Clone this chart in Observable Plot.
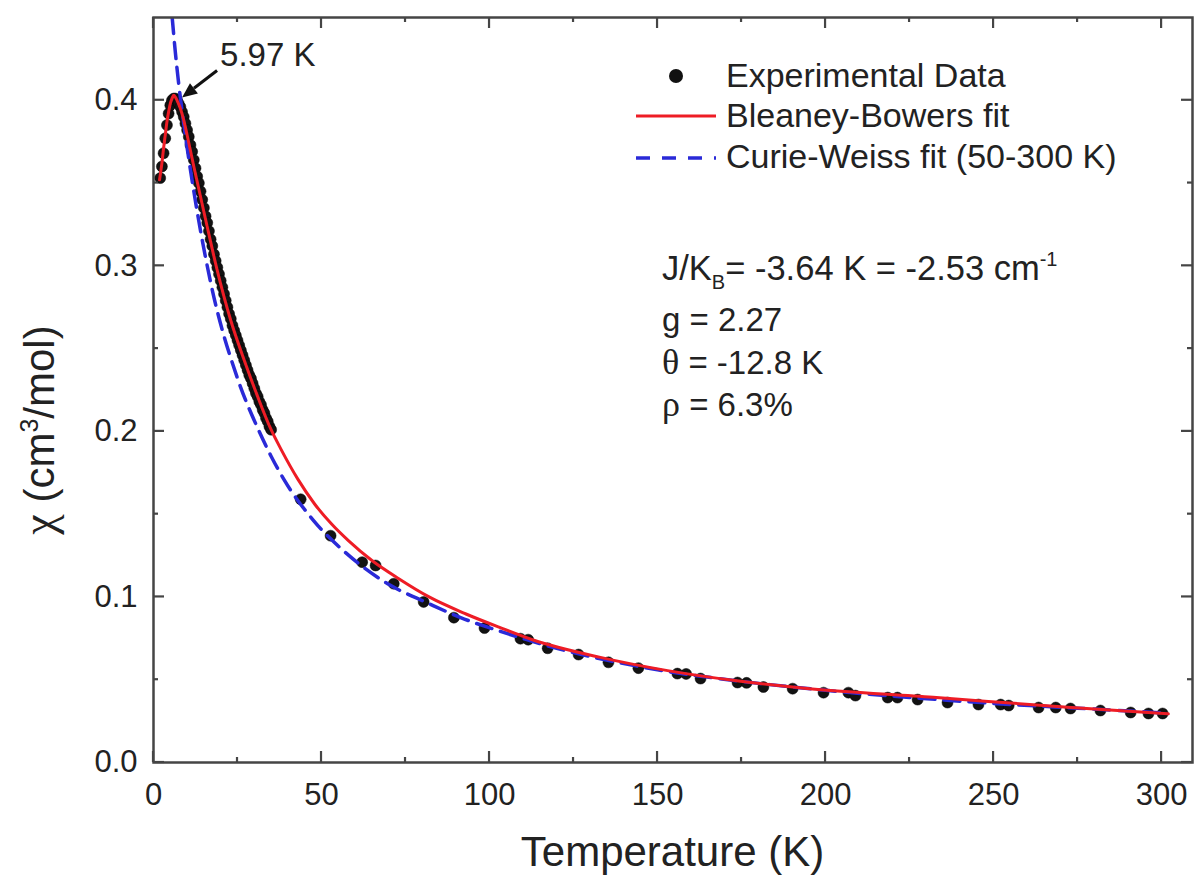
<!DOCTYPE html>
<html>
<head>
<meta charset="utf-8">
<script src="https://cdn.jsdelivr.net/npm/d3@7"></script>
<script src="https://cdn.jsdelivr.net/npm/@observablehq/plot@0.6"></script>
<style>
  html, body { margin: 0; padding: 0; background: #fff; }
  svg { display: block; }
</style>
</head>
<body>
<div id="chart"></div>
<script>
// ---------- data ----------
const expT = [2, 2.5, 3, 3.5, 4, 4.5, 5, 5.5, 6, 6.5, 7, 7.5, 8, 8.5, 9, 9.5, 10, 10.5, 11, 11.5, 12, 12.5, 13, 13.5, 14, 14.5, 15, 15.5,
  16, 16.5, 17, 17.5, 18, 18.5, 19, 19.5, 20, 20.5, 21, 21.5, 22, 22.5, 23, 23.5, 24, 24.5, 25, 25.5, 26, 26.5, 27, 27.5,
  28, 28.5, 29, 29.5, 30, 30.5, 31, 31.5, 32, 32.5, 33, 33.5, 34, 34.5, 35,
  43.8, 52.7, 62.1, 66.1, 71.5, 80.4, 89.4, 98.5, 109.2, 111.5, 117.3, 126.5, 135.4, 144.3,
  155.9, 158.5, 162.8, 173.8, 176.5, 181.5, 190.2, 199.4, 206.8, 208.9, 218.5, 221.4, 227.4,
  236.3, 245.5, 252.1, 254.5, 263.4, 268.5, 272.9, 281.8, 290.8, 296.1, 300.3];
const expChi = [0.353, 0.360, 0.368, 0.377, 0.385, 0.392, 0.397, 0.400, 0.401, 0.401, 0.400, 0.398, 0.396, 0.393, 0.390, 0.386, 0.382, 0.378, 0.373, 0.369, 0.364, 0.359, 0.354, 0.350, 0.345, 0.340, 0.335, 0.330,
  0.326, 0.321, 0.316, 0.312, 0.307, 0.303, 0.299, 0.295, 0.291, 0.287, 0.283, 0.279, 0.275, 0.271, 0.268, 0.264, 0.261, 0.258, 0.255, 0.252, 0.249, 0.246, 0.243, 0.240,
  0.237, 0.234, 0.232, 0.229, 0.226, 0.223, 0.221, 0.218, 0.216, 0.213, 0.211, 0.208, 0.206, 0.203, 0.201,
  0.159, 0.137, 0.121, 0.119, 0.108, 0.0970, 0.0875, 0.0812, 0.0748, 0.0742, 0.0690, 0.0652, 0.0605, 0.0570,
  0.0537, 0.0535, 0.0507, 0.0483, 0.0481, 0.0456, 0.0446, 0.0422, 0.0422, 0.0404, 0.0392, 0.0392, 0.0380,
  0.0362, 0.0350, 0.0350, 0.0344, 0.0332, 0.0332, 0.0326, 0.0314, 0.0302, 0.0296, 0.0296];

const bbT = [1.8, 2.5, 3, 3.5, 4, 4.5, 5, 5.5, 6, 6.5, 7, 8, 9, 10, 12, 15.5, 19, 23, 27, 31, 35, 38,
  43, 48, 53, 58, 65, 73, 82, 93, 103, 113, 133, 153, 173, 193, 232, 272, 302];
const bbChi = [0.352, 0.362, 0.371, 0.379, 0.387, 0.393, 0.398, 0.401, 0.403, 0.402, 0.400, 0.395, 0.388, 0.379, 0.360, 0.328, 0.297, 0.267, 0.243, 0.221, 0.201, 0.189,
  0.171, 0.156, 0.144, 0.134, 0.122, 0.111, 0.100, 0.0897, 0.0816, 0.0740, 0.0635, 0.0555, 0.0495, 0.0450, 0.0394, 0.0334, 0.0294];

const cwT = [5.56, 6.5, 7.5, 9, 12, 17, 25, 31, 35, 38.8, 47.7, 57.6, 70.5, 81.4, 91.4, 101.3,
  120, 150, 175, 200, 225, 250, 275, 300];
const cwChi = [0.45, 0.429, 0.41, 0.386, 0.345, 0.290, 0.232, 0.202, 0.185, 0.171, 0.146, 0.126, 0.107, 0.0965, 0.0875, 0.0805,
  0.0690, 0.0560, 0.0490, 0.0436, 0.0393, 0.0357, 0.0328, 0.0300];

const xMajorTicks = [0, 50, 100, 150, 200, 250, 300];
const xMinorTicks = [25, 75, 125, 175, 225, 275];
const yMajorTicks = [0, 0.1, 0.2, 0.3, 0.4];
const yMinorTicks = [0.05, 0.15, 0.25, 0.35];

const legendLabels = ["Experimental Data", "Bleaney-Bowers fit", "Curie-Weiss fit (50-300 K)"];
const peakT = 5.97, peakChi = 0.402;
const peakLabel = "5.97 K";
const paramLines = [["g", " = 2.27"], ["\u03b8", " = -12.8 K"], ["\u03c1", " = 6.3%"]];
const xTitle = "Temperature (K)";

// ---------- build tables ----------
const expData = expT.map((t, i) => ({t, chi: expChi[i]}));
const bbData = bbT.map((t, i) => ({t, chi: bbChi[i]}));
const cwData = cwT.map((t, i) => ({t, chi: cwChi[i]}));

const FONT = "'Liberation Sans', Arial, Helvetica, sans-serif";
const GREEK = "'Liberation Serif', 'Times New Roman', serif";
const INK = "#222";
const AXIS = "#454545";
const RED = "#ee1c25";
const BLUE = "#2a2ad8";

// inward ticks on all four sides, placed with the plot's own scales
function ticksMark(index, scales, values, dims) {
  const X = scales.x, Y = scales.y;
  const left = dims.marginLeft, right = dims.width - dims.marginRight;
  const top = dims.marginTop, bottom = dims.height - dims.marginBottom;
  const g = d3.create("svg:g").attr("stroke", AXIS).attr("stroke-width", 2.2).attr("fill", "none");
  const addX = (ticks, len) => ticks.forEach(v => {
    const x = X(v);
    g.append("line").attr("x1", x).attr("x2", x).attr("y1", bottom).attr("y2", bottom - len);
    g.append("line").attr("x1", x).attr("x2", x).attr("y1", top).attr("y2", top + len);
  });
  const addY = (ticks, len) => ticks.forEach(v => {
    const y = Y(v);
    g.append("line").attr("y1", y).attr("y2", y).attr("x1", left).attr("x2", left + len);
    g.append("line").attr("y1", y).attr("y2", y).attr("x1", right).attr("x2", right - len);
  });
  addX(xMajorTicks, 11); addX(xMinorTicks, 5);
  addY(yMajorTicks, 11); addY(yMinorTicks, 5);
  return g.node();
}

function overlay(index, scales, values, dims) {
  const X = scales.x, Y = scales.y;
  const g = d3.create("svg:g").attr("font-family", FONT).attr("fill", INK).attr("text-anchor", "start");
  const left = dims.marginLeft, right = dims.width - dims.marginRight;

  // axis titles
  g.append("text").attr("x", (left + right) / 2).attr("y", dims.height - 16)
    .attr("text-anchor", "middle").attr("font-size", 42).text(xTitle);
  const yt = g.append("text").attr("transform", `translate(54,430) rotate(-90)`)
    .attr("text-anchor", "middle").attr("font-size", 42);
  yt.append("tspan").attr("font-family", GREEK).attr("font-size", 46).text("\u03c7");
  yt.append("tspan").text(" (cm");
  yt.append("tspan").attr("font-size", 25).attr("dy", -16).text("3");
  yt.append("tspan").attr("dy", 16).text("/mol)");

  // peak annotation
  const px = X(peakT), py = Y(peakChi);
  const tipX = px + 9, tipY = py + 1;
  const tailX = px + 44, tailY = py - 26;
  const ang = Math.atan2(tailY - tipY, tailX - tipX);
  const hl = 15, hw = 6.5;
  const bx = tipX + hl * Math.cos(ang), by = tipY + hl * Math.sin(ang);
  g.append("line").attr("x1", bx).attr("y1", by).attr("x2", tailX).attr("y2", tailY)
    .attr("stroke", "#111").attr("stroke-width", 3);
  g.append("path").attr("fill", "#111").attr("d",
    `M${tipX},${tipY}L${bx - hw * Math.sin(ang)},${by + hw * Math.cos(ang)}L${bx + hw * Math.sin(ang)},${by - hw * Math.cos(ang)}Z`);
  g.append("text").attr("x", px + 47).attr("y", py - 30).attr("font-size", 33).text(peakLabel);

  // legend
  const lx = 636, lw = 80, tx = 726;
  const rows = [87, 127, 168];
  g.append("circle").attr("cx", 676).attr("cy", rows[0] - 11).attr("r", 7).attr("fill", "#111");
  g.append("line").attr("x1", lx).attr("x2", lx + lw).attr("y1", rows[1] - 11).attr("y2", rows[1] - 11)
    .attr("stroke", RED).attr("stroke-width", 3);
  g.append("line").attr("x1", lx).attr("x2", lx + lw).attr("y1", rows[2] - 10).attr("y2", rows[2] - 10)
    .attr("stroke", BLUE).attr("stroke-width", 3.5).attr("stroke-dasharray", "14,12");
  legendLabels.forEach((s, i) => {
    g.append("text").attr("x", tx).attr("y", rows[i]).attr("font-size", 34).text(s);
  });

  // fit parameters
  const ptx = 662;
  const j = g.append("text").attr("x", ptx).attr("y", 280).attr("font-size", 34.5);
  j.append("tspan").text("J/K");
  j.append("tspan").attr("font-size", 20).attr("dy", 9).text("B");
  j.append("tspan").attr("dy", -9).text("= -3.64 K = -2.53 cm");
  j.append("tspan").attr("font-size", 20).attr("dy", -14).text("-1");
  const pys = [331, 374, 416];
  paramLines.forEach(([sym, rest], i) => {
    const t = g.append("text").attr("x", ptx).attr("y", pys[i]).attr("font-size", 33);
    t.append("tspan").attr("font-family", i === 0 ? FONT : GREEK).attr("font-size", i === 0 ? 33 : 36).text(sym);
    t.append("tspan").text(rest);
  });
  return g.node();
}

const chart = Plot.plot({
  width: 1196,
  height: 882,
  marginLeft: 153,
  marginRight: 4,
  marginTop: 17,
  marginBottom: 120,
  style: {fontFamily: FONT, fontSize: "31px", color: INK, background: "#fff"},
  x: {domain: [0, 309.2], label: null},
  y: {domain: [0, 0.45], label: null},
  marks: [
    Plot.dot(expData, {x: "t", y: "chi", r: 5.5, fill: "#121212", stroke: "#000", strokeWidth: 0.5}),
    Plot.line(cwData, {x: "t", y: "chi", stroke: BLUE, strokeWidth: 3.5, strokeDasharray: "16,9", curve: "monotone-x", clip: true}),
    Plot.line(bbData, {x: "t", y: "chi", stroke: RED, strokeWidth: 3, curve: "monotone-x"}),
    Plot.frame({stroke: AXIS, strokeWidth: 2.5}),
    ticksMark,
    Plot.axisX({ticks: xMajorTicks, anchor: "bottom", tickSize: 0, tickPadding: 20, fontSize: 31, fill: INK, label: null}),
    Plot.axisY({ticks: yMajorTicks, anchor: "left", tickSize: 0, tickPadding: 16, fontSize: 31, fill: INK, tickFormat: d3.format(".1f"), label: null}),
    overlay
  ]
});
document.getElementById("chart").appendChild(chart);
</script>
</body>
</html>
